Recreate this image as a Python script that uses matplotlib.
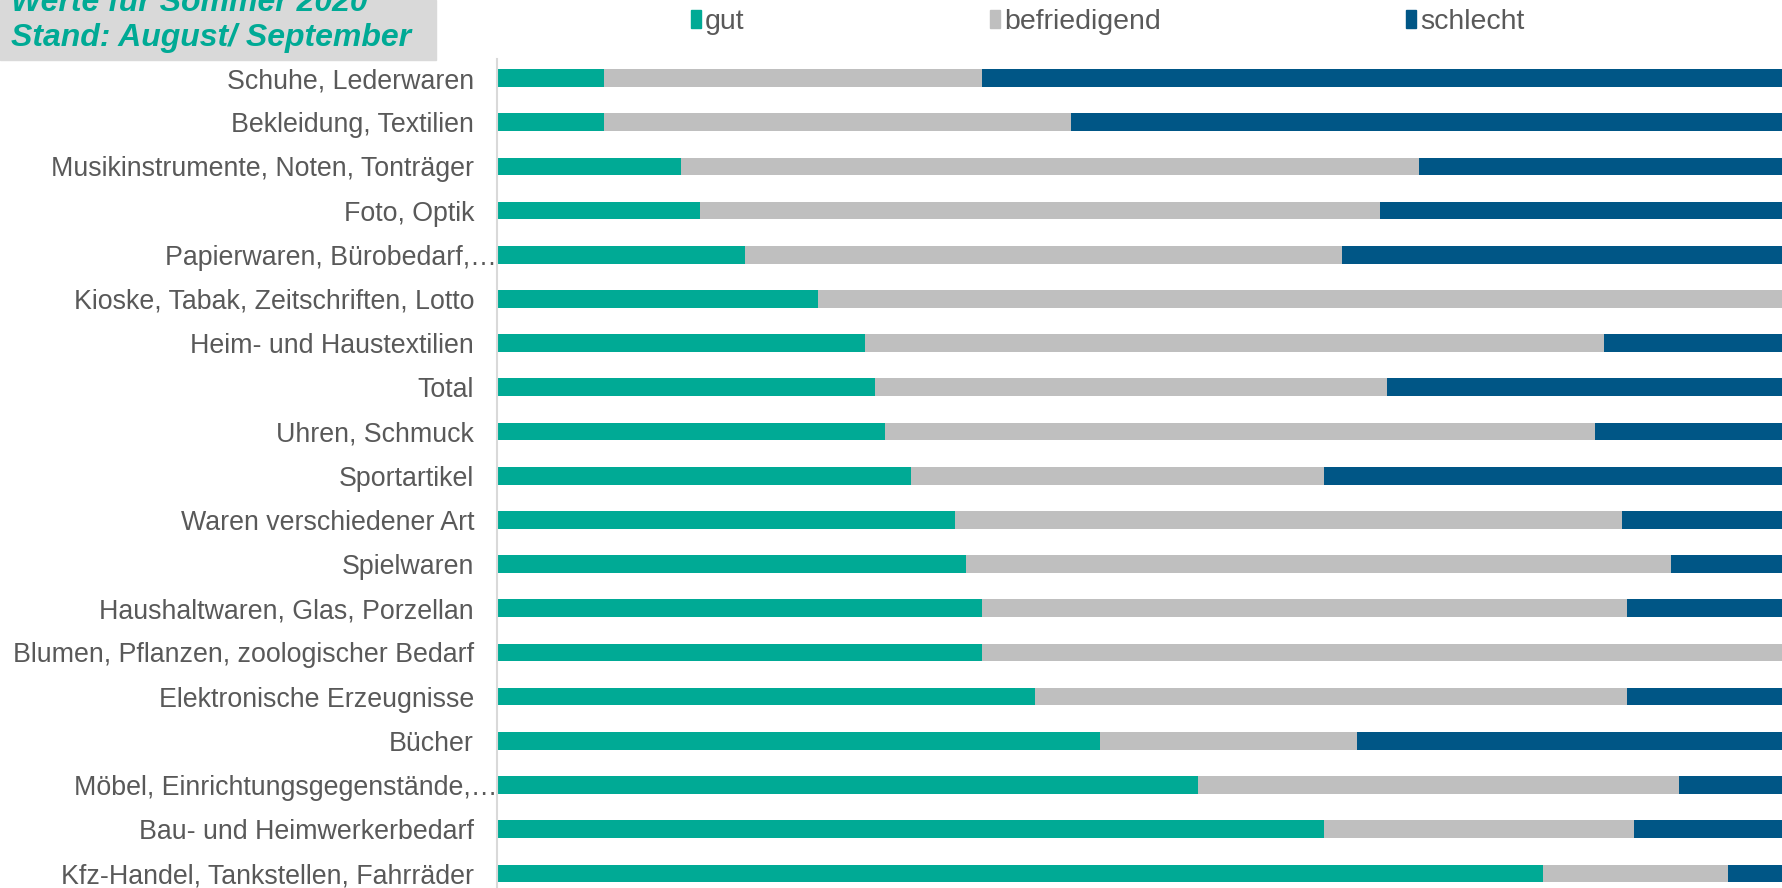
import matplotlib.pyplot as plt
from matplotlib.patches import Rectangle
import matplotlib.transforms as mtransforms

plt.rcParams['font.family'] = ['Liberation Sans', 'DejaVu Sans']

# data (shares in %), top to bottom
categories = ["Schuhe, Lederwaren", "Bekleidung, Textilien",
              "Musikinstrumente, Noten, Tonträger", "Foto, Optik",
              "Papierwaren, Bürobedarf,…", "Kioske, Tabak, Zeitschriften, Lotto",
              "Heim- und Haustextilien", "Total", "Uhren, Schmuck", "Sportartikel",
              "Waren verschiedener Art", "Spielwaren", "Haushaltwaren, Glas, Porzellan",
              "Blumen, Pflanzen, zoologischer Bedarf", "Elektronische Erzeugnisse",
              "Bücher", "Möbel, Einrichtungsgegenstände,…", "Bau- und Heimwerkerbedarf",
              "Kfz-Handel, Tankstellen, Fahrräder"]
gut = [8.3, 8.3, 14.3, 15.8, 19.3, 25.0, 28.6, 29.4, 30.2, 32.2,
       35.6, 36.5, 37.7, 37.7, 41.8, 46.9, 54.5, 64.3, 81.3]
befriedigend = [29.4, 36.3, 57.4, 52.9, 46.4, 75.0, 57.5, 39.8, 55.2, 32.1,
                51.9, 54.8, 50.2, 62.3, 46.1, 20.0, 37.4, 24.1, 14.4]
schlecht = [62.3, 55.4, 28.3, 31.3, 34.3, 0.0, 13.9, 30.8, 14.6, 35.7,
            12.5, 8.7, 12.1, 0.0, 12.1, 33.1, 8.1, 11.6, 4.3]
series_names = ["gut", "befriedigend", "schlecht"]
colors = ["#00AA95", "#BFBFBF", "#005686"]

W, H = 1783, 888
fig = plt.figure(figsize=(W / 100, H / 100), dpi=100)
ax = fig.add_axes([497 / W, 0, 1 - 497 / W, (H - 59) / H])

ypos = list(range(len(categories)))
left = [0.0] * len(categories)
for vals, name, col in zip([gut, befriedigend, schlecht], series_names, colors):
    ax.barh(ypos, vals, left=left, height=0.4, color=col, label=name)
    left = [l + v for l, v in zip(left, vals)]

ax.set_xlim(0, 100)
ax.set_ylim(18.33, -0.43)
ax.set_yticks(ypos)
ax.set_yticklabels(categories, fontsize=19.3, color="#595959")
ax.tick_params(axis='y', length=0, pad=16.5)
ax.set_xticks([])
for s in ["top", "right", "bottom"]:
    ax.spines[s].set_visible(False)
ax.spines["left"].set_color("#D9D9D9")
ax.spines["left"].set_linewidth(1.5)

# truncated labels sit closer to the axis
for lbl in ax.get_yticklabels():
    if lbl.get_text().endswith("…"):
        lbl.set_transform(lbl.get_transform() +
                          mtransforms.ScaledTranslation(23 / 100, 0, fig.dpi_scale_trans))

# title box
fig.patches.append(Rectangle((0, 1 - 60 / H), 436 / W, 60 / H, transform=fig.transFigure,
                             color="#D9D9D9", zorder=0))
fig.text(11 / W, 1 - 11 / H, "Werte für Sommer 2020", fontsize=23, fontweight="bold",
         style="italic", color="#00AA95", va="baseline", ha="left")
fig.text(11 / W, 1 - 46 / H, "Stand: August/ September", fontsize=23, fontweight="bold",
         style="italic", color="#00AA95", va="baseline", ha="left")

handles = [Rectangle((0, 0), 1, 1, color=c) for c in colors]
fig.legend(handles, series_names, loc="center left", bbox_to_anchor=(691 / W, 1 - 22 / H),
           ncol=3, frameon=False, fontsize=20.5, labelcolor="#595959",
           handlelength=0.35, handleheight=0.55, handletextpad=0.15,
           columnspacing=8.6, borderpad=0, borderaxespad=0)

fig.savefig("out.png", dpi=100)
